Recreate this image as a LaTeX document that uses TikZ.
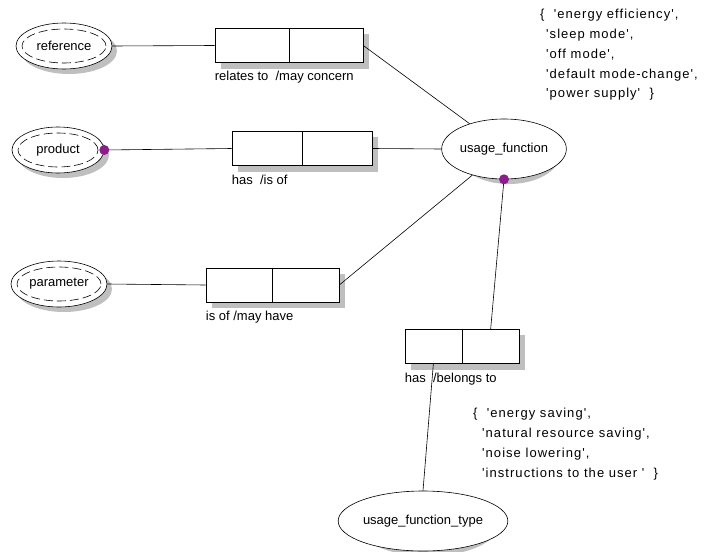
\documentclass[tikz,border=0pt]{standalone}
\usepackage{fontspec}
\setmainfont{Liberation Sans}
\newfontfamily\listfont[LetterSpace=8]{Liberation Sans}
\usetikzlibrary{shapes.geometric,calc,backgrounds}
\definecolor{dotpurple}{RGB}{140,30,140}
\tikzset{
  every node/.style={font=\fontsize{13}{19.5}\selectfont},
  entity/.style={draw,ellipse,fill=white,inner sep=0pt,line width=0.6pt},
  relbox/.style={draw,rectangle,fill=white,inner sep=0pt,line width=0.6pt,
    minimum height=34pt},
  rellabel/.style={anchor=north west,inner sep=0pt},
  valuelist/.style={anchor=north west,align=left,inner sep=0pt,
    font=\listfont\fontsize{13}{19.8}\selectfont},
  innerdash/.style={line width=0.6pt,dash pattern=on 9pt off 4pt},
  link/.style={line width=0.6pt},
  joint/.style={fill=dotpurple},
  shadow/.style={fill=black!25}
}
\begin{document}
\begin{tikzpicture}[x=1pt,y=-1pt]
   \useasboundingbox (0,0) rectangle (711,551);

   % entities
   \node[entity,minimum width=96pt,minimum height=46pt] (ref) at (64,46) {reference};
   \node[entity,minimum width=92pt,minimum height=46pt] (prod) at (58,150) {product};
   \node[entity,minimum width=96pt,minimum height=46pt] (param) at (59,284) {parameter};
   \draw[innerdash] (ref.center) ellipse (42pt and 17pt);
   \draw[innerdash] (prod.center) ellipse (40pt and 17pt);
   \draw[innerdash] (param.center) ellipse (42pt and 17pt);

   \node[entity,minimum width=102pt,minimum height=60pt] (uf) at (504,149) {usage\_function};
   \node[entity,minimum width=139pt,minimum height=60pt] (uft) at (423,521) {usage\_function\_type};

   % relation boxes
   \node[relbox,minimum width=148pt] (b1) at (289,45.5) {};
   \node[relbox,minimum width=140pt] (b2) at (302,148.5) {};
   \node[relbox,minimum width=133pt] (b3) at (272.5,285) {};
   \node[relbox,minimum width=114pt] (b4) at (462,346.5) {};
   \draw[link] (b1.north) -- (b1.south);
   \draw[link] (b2.north) -- (b2.south);
   \draw[link] (b3.north) -- (b3.south);
   \draw[link] (b4.north) -- (b4.south);

   \node[rellabel] (l1) at ([yshift=-8pt]b1.south west) {relates to\ \ /may\ concern};
   \node[rellabel] (l2) at ([yshift=-9pt]b2.south west) {has\ \ /is\ of};
   \node[rellabel] (l3) at ([yshift=-9pt]b3.south west) {is of /may\ have};
   \node[rellabel] (l4) at ([yshift=-9pt]b4.south west) {has\ \ /belongs\ to};

   % shadows
   \begin{scope}[on background layer]
     \fill[shadow] ([shift={(5,5)}]ref.center) ellipse (48pt and 23pt);
     \fill[shadow] ([shift={(5,5)}]prod.center) ellipse (46pt and 23pt);
     \fill[shadow] ([shift={(5,5)}]param.center) ellipse (48pt and 23pt);
     \fill[shadow] ([shift={(5,5)}]uf.center) ellipse (51pt and 30pt);
     \fill[shadow] ([shift={(5,5)}]uft.center) ellipse (69.5pt and 30pt);
     \fill[shadow] ([shift={(6,6)}]b1.north west) rectangle ([shift={(6,6)}]b1.south east);
     \fill[shadow] ([shift={(6,6)}]b2.north west) rectangle ([shift={(6,6)}]b2.south east);
     \fill[shadow] ([shift={(6,6)}]b3.north west) rectangle ([shift={(6,6)}]b3.south east);
     \fill[shadow] ([shift={(6,6)}]b4.north west) rectangle ([shift={(6,6)}]b4.south east);
   \end{scope}

   % connectors
   \draw[link] (ref.east) -- (b1.west);
   \draw[link] (b1.east) -- (uf);
   \draw[link] (prod.east) -- (b2.west);
   \draw[link] (b2.east) -- (uf.west);
   \draw[link] (param.east) -- (b3.west);
   \draw[link] (b3.east) -- (uf);
   \draw[link] (uf.south) -- ($(b4.north)!0.5!(b4.north east)$);
   \draw[link] ($(b4.south west)!0.5!(b4.south)$) -- (uft.north);

   \fill[joint] (prod.east) circle (5pt);
   \fill[joint] (uf.south) circle (5pt);

   % value lists
   \node[valuelist] (vals1) at (540,9)
     {\{\ \ 'energy efficiency',\\
      \hspace*{6pt}'sleep mode',\\
      \hspace*{6pt}'off mode',\\
      \hspace*{6pt}'default mode-change',\\
      \hspace*{6pt}'power supply'\ \ \}};
   \node[valuelist] (vals2) at (473,408)
     {\{\ \ 'energy saving',\\
      \hspace*{9pt}'natural resource saving',\\
      \hspace*{9pt}'noise lowering',\\
      \hspace*{9pt}'instructions to the user '\ \ \}};
\end{tikzpicture}
\end{document}
